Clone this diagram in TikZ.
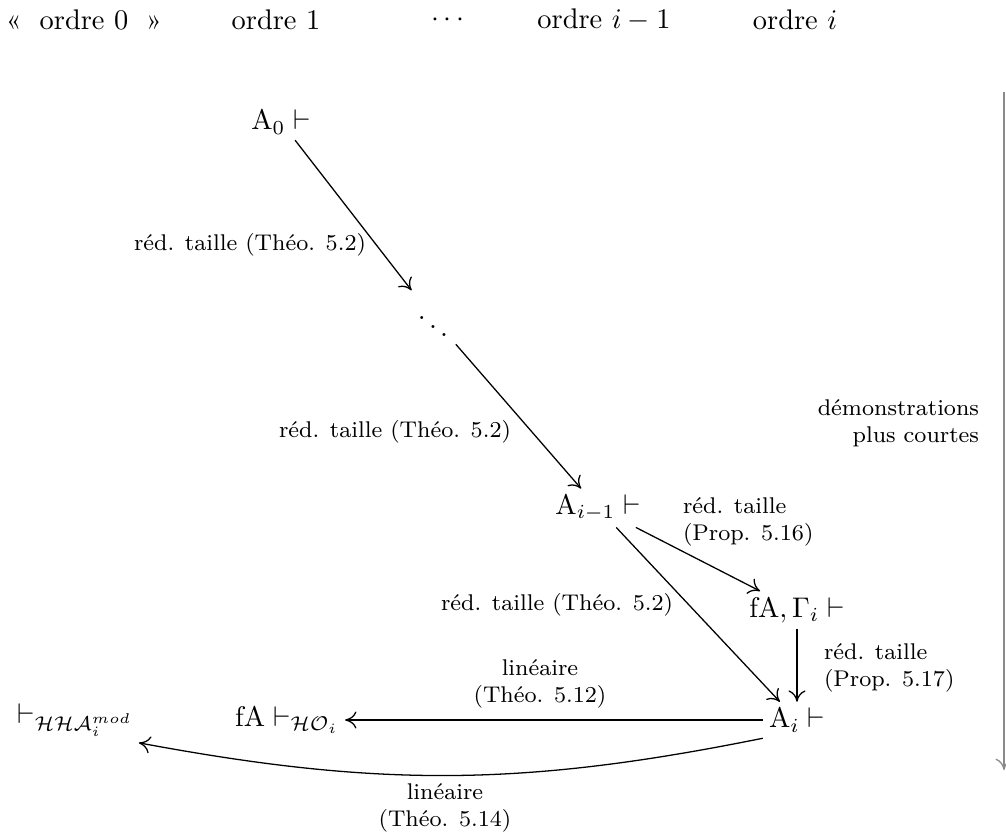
\documentclass[tikz,border=0pt]{standalone}
\usepackage{amsmath,amssymb}
\usepackage{xcolor}
\usepackage{tikz}
\usetikzlibrary{arrows.meta}
\definecolor{ink}{HTML}{000000}
\definecolor{muted}{HTML}{8A8A8A}
\tikzset{
  arr/.style={draw=ink, line width=0.45pt, -{To[length=4pt,width=6pt]}},
  garr/.style={draw=muted, line width=0.45pt, -{To[length=4pt,width=6pt]}},
  seq/.style={text=ink, inner sep=2pt},
  hdr/.style={text=ink},
  lbl/.style={text=ink, font=\footnotesize, align=center},
  llbl/.style={text=ink, font=\footnotesize, align=left, anchor=west},
  rlbl/.style={text=ink, font=\footnotesize, align=right, anchor=east}
}

\begin{document}
\begin{tikzpicture}[x=0.012376cm, y=-0.012376cm]
  \useasboundingbox (0,0) rectangle (1006,839);

  \node[hdr] (h0) at (84,20) {«\hspace{3pt} ordre 0\hspace{3pt} »};
  \node[hdr] (h1) at (276,20) {ordre 1};
  \node[hdr] (hd) at (450,20) {$\cdots$};
  \node[hdr] (hm) at (604,20) {ordre $i-1$};
  \node[hdr] (hi) at (795,20) {ordre $i$};

  \node[seq] (a0) at (281,122) {$\mathrm{A}_0 \vdash$};
  \node[seq] (dd) at (433,318) {$\ddots$};
  \node[seq] (aim) at (598,508) {$\mathrm{A}_{i-1} \vdash$};
  \node[seq] (fag) at (797,610) {$\mathrm{fA}, \Gamma_i \vdash$};
  \node[seq] (ai) at (797,720) {$\mathrm{A}_i \vdash$};
  \node[seq] (fho) at (287,720) {$\mathrm{fA} \vdash_{\mathcal{HO}_i}$};
  \node[seq] (hha) at (75,720) {$\vdash_{\mathcal{HHA}_i^{mod}}$};

  \draw[arr] (a0) -- (dd);
  \draw[arr] (dd) -- (aim);
  \draw[arr] (aim) -- (fag);
  \draw[arr] (aim) -- (ai);
  \draw[arr] (fag) -- (ai);
  \draw[arr] (ai) -- (fho);
  \draw[arr] (ai.south west) to[bend left=11] (hha.south east);

  \node[lbl] at (250,245) {réd. taille (Théo. 5.2)};
  \node[lbl] at (395,432) {réd. taille (Théo. 5.2)};
  \node[llbl] at (673,522) {réd. taille\\(Prop. 5.16)};
  \node[lbl] at (557,605) {réd. taille (Théo. 5.2)};
  \node[llbl] at (814,668) {réd. taille\\(Prop. 5.17)};
  \node[lbl] at (540,684) {linéaire\\(Théo. 5.12)};
  \node[lbl] at (445,808) {linéaire\\(Théo. 5.14)};
  \node[rlbl] at (989,423) {démonstrations\\plus courtes};

  \coordinate (top) at (1004,92);
  \coordinate (bot) at (1004,770);
  \draw[garr] (top) -- (bot);
\end{tikzpicture}
\end{document}
